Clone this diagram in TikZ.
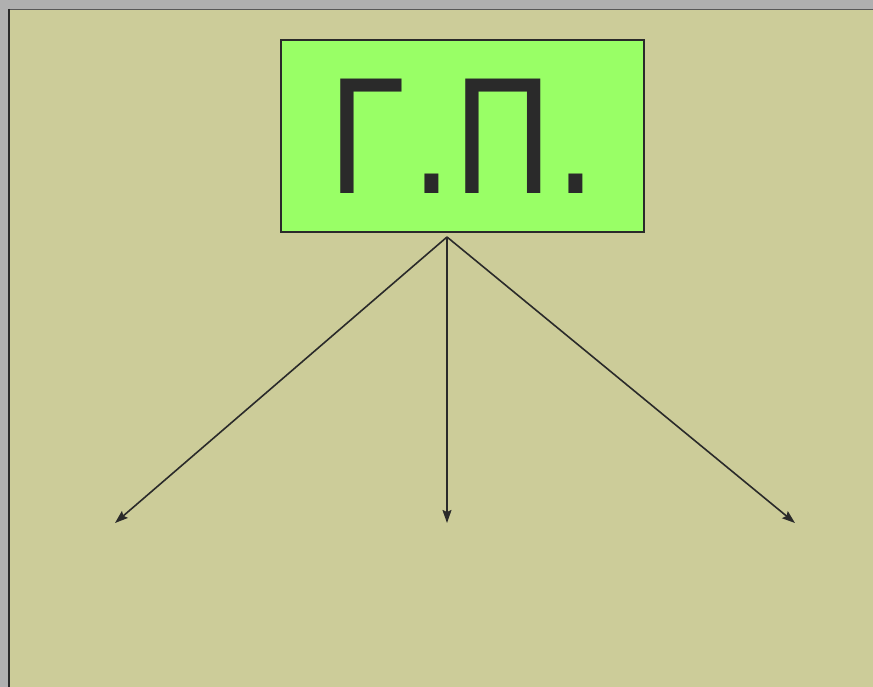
\documentclass[tikz,border=0pt]{standalone}
\usepackage{fontspec}
\newfontfamily\gpfont[FakeStretch=0.86]{DejaVu Sans}
\usepackage{tikz}
\usetikzlibrary{arrows.meta,positioning}
\definecolor{khaki}{HTML}{CCCC99}
\definecolor{frameGray}{HTML}{B0B0B0}
\definecolor{boxGreen}{HTML}{99FF66}
\definecolor{inkDark}{HTML}{2A2A2A}
\tikzset{
  gpbox/.style={rectangle, draw=inkDark, line width=1.5pt, fill=boxGreen,
                minimum width=363pt, minimum height=192pt, inner sep=0pt,
                text=inkDark, font=\gpfont\fontsize{157}{157}\selectfont},
  fan/.style={-{Stealth[length=13pt,width=9pt,inset=2pt]}, line width=1.6pt, draw=inkDark},
}

\begin{document}
\begin{tikzpicture}[x=1pt,y=-1pt]
  \useasboundingbox (0,0) rectangle (873,687);
  % Frame and background
  \fill[frameGray] (0,0) rectangle (873,687);
  \fill[khaki] (8,9) rectangle (873,687);
  \draw[gray!70!black, line width=1pt] (8,9.5) -- (873,9.5);
  \draw[inkDark, line width=2pt] (9,9) -- (9,687);

  % Box
  \node[gpbox] (gp) at (462.5,136) {Г.П.};

  % Arrows
  \coordinate (src) at (447,237);
  \coordinate (leftEnd) at (115,523);
  \coordinate (midEnd) at (447,523);
  \coordinate (rightEnd) at (795,523);
  \foreach \e in {leftEnd,midEnd,rightEnd}
    \draw[fan] (src) -- (\e);
\end{tikzpicture}
\end{document}
